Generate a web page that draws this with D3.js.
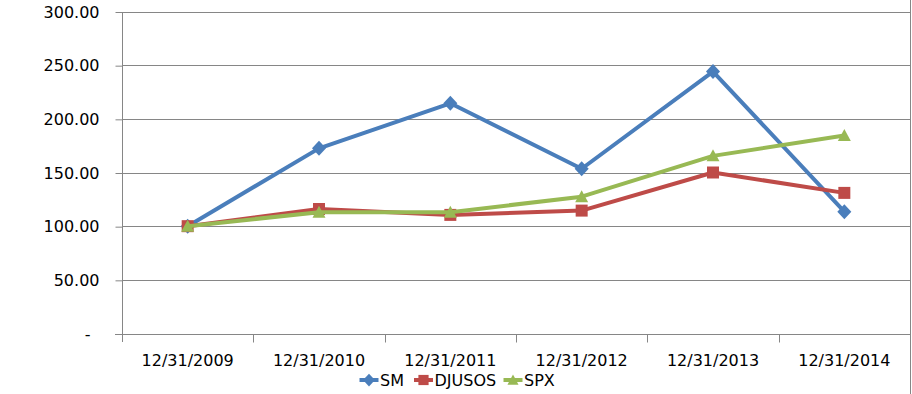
<!DOCTYPE html>
<html>
<head>
<meta charset="utf-8">
<script src="https://cdn.jsdelivr.net/npm/d3@7"></script>
<style>
  body { margin: 0; background: #fff; }
  svg { display: block; font-family: "DejaVu Sans", sans-serif; }
</style>
</head>
<body>
<div id="vis"></div>
<script>
// data
var dates = ["12/31/2009", "12/31/2010", "12/31/2011", "12/31/2012", "12/31/2013", "12/31/2014"];
var sm = [100, 172.5, 214.5, 153.5, 244, 113.5];
var djusos = [100, 116, 110.5, 114.5, 150, 131];
var spx = [100, 113, 113, 127.5, 165.5, 184.5];
var yTicks = [0, 50, 100, 150, 200, 250, 300];

var series = [
  {name: "SM", values: sm, color: "#4A7EBB", marker: "diamond"},
  {name: "DJUSOS", values: djusos, color: "#BE4B48", marker: "square"},
  {name: "SPX", values: spx, color: "#98B954", marker: "triangle"}
];

var width = 912, height = 394;
var margin = {left: 122, right: 2, top: 11.5, bottom: 60.5};

var svg = d3.select("#vis").append("svg")
  .attr("width", width)
  .attr("height", height);

var x = d3.scaleBand()
  .domain(dates)
  .range([margin.left, width - margin.right])
  .padding(0);

var y = d3.scaleLinear()
  .domain([0, 300])
  .range([height - margin.bottom, margin.top]);

// right frame edge
svg.append("line")
  .attr("x1", 910.5).attr("x2", 910.5)
  .attr("y1", 0).attr("y2", height)
  .attr("stroke", "#868686");

// gridlines
svg.append("g")
  .selectAll("line")
  .data(yTicks.filter(d => d > 0))
  .join("line")
  .attr("x1", margin.left).attr("x2", 910)
  .attr("y1", d => Math.round(y(d)) + 0.5)
  .attr("y2", d => Math.round(y(d)) + 0.5)
  .attr("stroke", "#868686");

// y axis
var yAxis = svg.append("g")
  .attr("transform", `translate(${margin.left + 0.5},0.5)`)
  .call(d3.axisLeft(y).tickValues(yTicks).tickSize(7).tickPadding(16)
    .tickFormat(d => d === 0 ? "-" : d.toFixed(2)))
  .call(g => g.select(".domain").attr("d", `M0,${margin.top}V${height - margin.bottom + 8}`))
  .call(g => g.selectAll("line, .domain").attr("stroke", "#868686"))
  .call(g => g.selectAll(".tick text")
    .attr("fill", "#000")
    .attr("font-size", 16)
    .attr("font-family", "DejaVu Sans, sans-serif"));
yAxis.selectAll(".tick").filter(d => d === 0).select("text").attr("dx", -9);

// x axis line, labels and tick marks at the band edges
var base = Math.round(y(0)) + 0.5;
svg.append("line")
  .attr("x1", margin.left - 7).attr("x2", 910)
  .attr("y1", base).attr("y2", base)
  .attr("stroke", "#868686");

svg.append("g")
  .selectAll("line")
  .data(dates.slice(1))
  .join("line")
  .attr("x1", d => Math.round(x(d)) + 0.5)
  .attr("x2", d => Math.round(x(d)) + 0.5)
  .attr("y1", base).attr("y2", base + 8)
  .attr("stroke", "#868686");

svg.append("g")
  .selectAll("text")
  .data(dates)
  .join("text")
  .attr("x", d => x(d) + x.bandwidth() / 2)
  .attr("y", 366)
  .attr("text-anchor", "middle")
  .attr("font-size", 16)
  .text(d => d);

function markerPath(type) {
  if (type === "diamond") return "M0,-7.5L7,0L0,7.5L-7,0Z";
  if (type === "square") return "M-6,-6H6V6H-6Z";
  return "M0,-6.5L6.5,5.5L-6.5,5.5Z";
}

var line = d3.line()
  .x((d, i) => x(dates[i]) + x.bandwidth() / 2)
  .y(d => y(d));

series.forEach(function(s) {
  var g = svg.append("g");
  g.append("path")
    .attr("d", line(s.values))
    .attr("fill", "none")
    .attr("stroke", s.color)
    .attr("stroke-width", 4)
    .attr("stroke-linejoin", "round");
  g.selectAll("path.mk")
    .data(s.values)
    .join("path")
    .attr("class", "mk")
    .attr("d", markerPath(s.marker))
    .attr("transform", (d, i) => `translate(${x(dates[i]) + x.bandwidth() / 2},${y(d)})`)
    .attr("fill", s.color);
});

// legend
var legendX = [369, 423.5, 513];
var legend = svg.append("g")
  .selectAll("g")
  .data(series)
  .join("g")
  .attr("transform", (d, i) => `translate(${legendX[i]},380)`);

legend.append("line")
  .attr("x1", -9.5).attr("x2", 9.5)
  .attr("stroke", d => d.color)
  .attr("stroke-width", 4);
legend.append("path")
  .attr("d", d => markerPath(d.marker))
  .attr("transform", "scale(0.85)")
  .attr("fill", d => d.color);
legend.append("text")
  .attr("x", 11)
  .attr("y", 6)
  .attr("font-size", 16)
  .text(d => d.name);
</script>
</body>
</html>
